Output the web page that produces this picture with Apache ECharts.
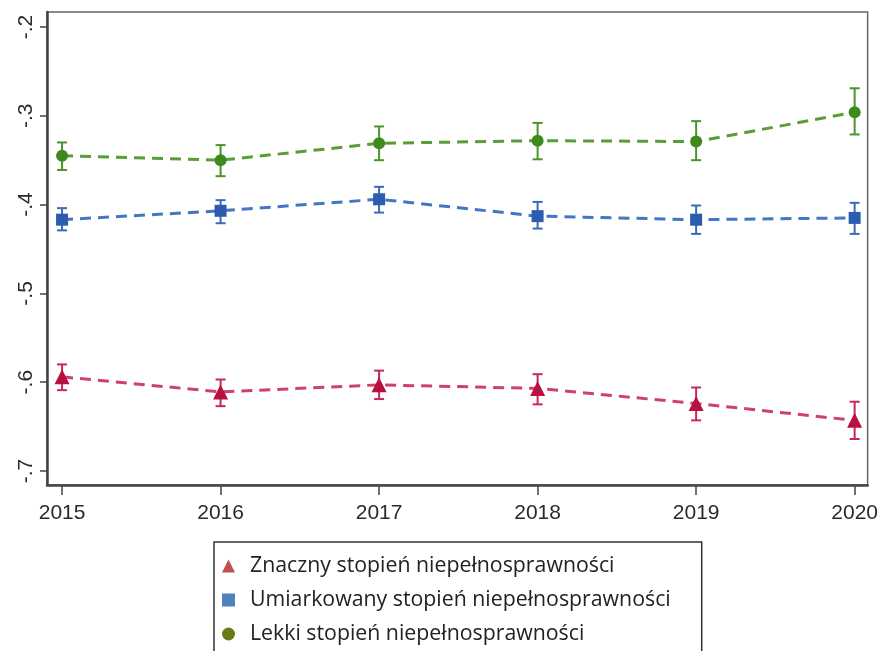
<!DOCTYPE html>
<html>
<head>
<meta charset="utf-8">
<script src="https://cdn.jsdelivr.net/npm/echarts@6/dist/echarts.min.js"></script>
<style>html,body{margin:0;padding:0;background:#fff}#c{width:881px;height:651px}</style>
</head>
<body>
<div id="c"></div>
<script>
const years = [2015, 2016, 2017, 2018, 2019, 2020];
const yTicks = [-0.2, -0.3, -0.4, -0.5, -0.6, -0.7];
const names = ['Znaczny stopień niepełnosprawności', 'Umiarkowany stopień niepełnosprawności', 'Lekki stopień niepełnosprawności'];

const znaczny      = [-0.594, -0.611, -0.603, -0.607, -0.624, -0.643];
const znacznyLow   = [-0.609, -0.627, -0.619, -0.625, -0.643, -0.664];
const znacznyHigh  = [-0.580, -0.597, -0.587, -0.591, -0.606, -0.622];

const umiark       = [-0.417, -0.407, -0.394, -0.413, -0.417, -0.415];
const umiarkLow    = [-0.429, -0.421, -0.409, -0.427, -0.433, -0.433];
const umiarkHigh   = [-0.404, -0.395, -0.380, -0.397, -0.401, -0.398];

const lekki        = [-0.345, -0.350, -0.331, -0.328, -0.329, -0.296];
const lekkiLow     = [-0.361, -0.368, -0.350, -0.349, -0.350, -0.321];
const lekkiHigh    = [-0.330, -0.333, -0.312, -0.308, -0.306, -0.269];

const lineColors   = ['#d0416a', '#4675c6', '#5b9d35'];
const markColors   = ['#b8103f', '#2c5cad', '#3e8a1f'];
const barColors    = ['#c8285a', '#3a6abb', '#4c942a'];
const legendColors = ['#c0504d', '#4f81bd', '#6b7b1c'];
const symbols      = ['triangle', 'rect', 'circle'];
const symSizes     = [15, 12, 12];

const vals = [znaczny, umiark, lekki];
const lows = [znacznyLow, umiarkLow, lekkiLow];
const highs = [znacznyHigh, umiarkHigh, lekkiHigh];

const series = [];
for (let s = 0; s < 3; s++) {
  series.push({
    type: 'custom',
    name: names[s] + ' CI',
    z: 3,
    data: years.map((y, i) => [y, lows[s][i], highs[s][i]]),
    renderItem: function (params, api) {
      const lo = api.coord([api.value(0), api.value(1)]);
      const hi = api.coord([api.value(0), api.value(2)]);
      const hw = 5;
      const st = { stroke: barColors[s], lineWidth: 2 };
      return {
        type: 'group',
        children: [
          { type: 'line', shape: { x1: lo[0], y1: lo[1], x2: hi[0], y2: hi[1] }, style: st },
          { type: 'line', shape: { x1: lo[0] - hw, y1: lo[1], x2: lo[0] + hw, y2: lo[1] }, style: st },
          { type: 'line', shape: { x1: hi[0] - hw, y1: hi[1], x2: hi[0] + hw, y2: hi[1] }, style: st }
        ]
      };
    },
    silent: true
  });
  series.push({
    type: 'line',
    name: names[s],
    z: 4,
    data: years.map((y, i) => [y, vals[s][i]]),
    symbol: symbols[s],
    symbolSize: symSizes[s],
    showSymbol: true,
    lineStyle: { color: lineColors[s], width: 3, type: [11, 7] },
    itemStyle: { color: markColors[s] },
    animation: false
  });
}

const chart = echarts.init(document.getElementById('c'), null, { renderer: 'canvas' });
chart.setOption({
  animation: false,
  backgroundColor: '#fff',
  grid: {
    left: 47, right: 13, top: 12, bottom: 166,
    show: true, borderColor: '#666', borderWidth: 1.5, backgroundColor: '#fff'
  },
  xAxis: {
    type: 'value',
    min: 2014.905, max: 2020.082,
    axisLine: { show: true, lineStyle: { color: '#444', width: 2.5 } },
    axisTick: { show: true, length: 10, customValues: years, lineStyle: { color: '#444', width: 1.5 } },
    axisLabel: {
      customValues: years, margin: 18, color: '#2a2a2a',
      fontFamily: 'Liberation Sans', fontSize: 21,
      formatter: v => String(Math.round(v))
    },
    splitLine: { show: false }
  },
  yAxis: {
    type: 'value',
    min: -0.7158, max: -0.1831,
    axisLine: { show: true, lineStyle: { color: '#444', width: 2.5 } },
    axisTick: { show: true, length: 7, customValues: yTicks, lineStyle: { color: '#444', width: 1.5 } },
    axisLabel: {
      customValues: yTicks, rotate: 90, margin: 10, color: '#2a2a2a',
      fontFamily: 'Liberation Sans', fontSize: 21,
      formatter: v => v.toFixed(1).replace('0.', '.')
    },
    splitLine: { show: false }
  },
  legend: {
    orient: 'vertical',
    left: 214, top: 542,
    height: 140,
    padding: [13, 31, 25, 8],
    itemWidth: 13, itemHeight: 13, itemGap: 12,
    borderColor: '#333', borderWidth: 1.5,
    backgroundColor: '#fff',
    textStyle: { fontFamily: 'Open Sans', fontSize: 21.3, color: '#222', lineHeight: 22, padding: [0, 0, 0, 10] },
    data: names.map((n, i) => ({ name: n, icon: symbols[i], itemStyle: { color: legendColors[i] } }))
  },
  series: series
});
</script>
</body>
</html>
